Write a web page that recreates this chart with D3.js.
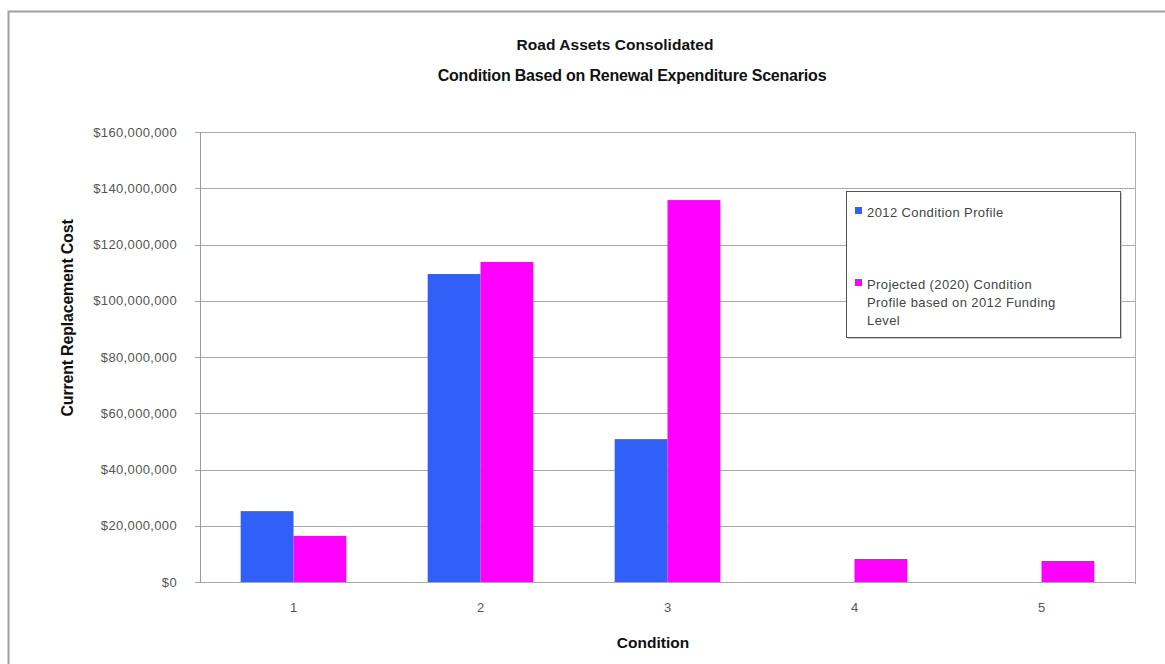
<!DOCTYPE html>
<html>
<head>
<meta charset="utf-8">
<script src="https://cdn.jsdelivr.net/npm/d3@7"></script>
<style>
  html, body { margin: 0; padding: 0; background: #fff; }
  svg { display: block; }
</style>
</head>
<body>
<svg id="chart" width="1165" height="664"></svg>
<script>
// Condition categories (1 = best, 5 = worst)
const categories = ["1", "2", "3", "4", "5"];
// Current replacement cost per condition
const profile2012 = [25200000, 109500000, 50800000, 0, 0];
const projected2020 = [16400000, 113800000, 135800000, 8200000, 7500000];
const seriesNames = ["2012 Condition Profile", "Projected (2020) Condition Profile based on 2012 Funding Level"];
const legendLines = [["2012 Condition Profile"], ["Projected (2020) Condition", "Profile based on 2012 Funding", "Level"]];
const yTicks = [0, 20000000, 40000000, 60000000, 80000000, 100000000, 120000000, 140000000, 160000000];

const colors = ["#3060f8", "#ff00ff"];
const svg = d3.select("#chart");
const font = "Liberation Sans, Arial, sans-serif";

// Outer chart frame (top and left edges)
svg.append("path")
  .attr("d", "M8.5,664 L8.5,11.5 L1165,11.5")
  .attr("fill", "none").attr("stroke", "#a0a0a0").attr("stroke-width", 2);

const plot = { left: 200, top: 132, right: 1135, bottom: 582 };

const x0 = d3.scaleBand().domain(categories).range([plot.left, plot.right]).paddingInner(0.435).paddingOuter(0.2175);
const x1 = d3.scaleBand().domain([0, 1]).range([0, x0.bandwidth()]);
const y = d3.scaleLinear().domain([0, 160000000]).range([plot.bottom, plot.top]);

// Horizontal gridlines with short tick stubs to the left
svg.append("g").selectAll("line").data(yTicks).join("line")
  .attr("x1", plot.left - 5).attr("x2", plot.right)
  .attr("y1", d => Math.round(y(d)) + 0.5).attr("y2", d => Math.round(y(d)) + 0.5)
  .attr("stroke", "#a8a8a8").attr("stroke-width", 1);

// Plot area left and right borders
svg.append("line").attr("x1", plot.left + 0.5).attr("x2", plot.left + 0.5)
  .attr("y1", plot.top).attr("y2", plot.bottom + 1).attr("stroke", "#9a9a9a");
svg.append("line").attr("x1", plot.right + 0.5).attr("x2", plot.right + 0.5)
  .attr("y1", plot.top).attr("y2", plot.bottom + 2).attr("stroke", "#b0b0b0");

// Y tick labels
const fmt = d => "$" + d3.format(",")(d);
svg.append("g").selectAll("text").data(yTicks).join("text")
  .attr("x", 177).attr("y", d => y(d) + 4.5)
  .attr("text-anchor", "end")
  .attr("font-family", font).attr("font-size", 13).attr("letter-spacing", 0.35).attr("fill", "#555")
  .text(fmt);

// Bars
const series = [profile2012, projected2020];
const groups = svg.append("g").selectAll("g").data(categories).join("g")
  .attr("transform", d => `translate(${x0(d)},0)`);
groups.selectAll("rect")
  .data((c, i) => series.map((s, k) => ({ k, v: s[i] })))
  .join("rect")
  .attr("x", d => x1(d.k))
  .attr("width", x1.bandwidth())
  .attr("y", d => y(d.v))
  .attr("height", d => y(0) - y(d.v))
  .attr("fill", d => colors[d.k]);

// X tick labels
svg.append("g").selectAll("text").data(categories).join("text")
  .attr("x", d => x0(d) + x0.bandwidth() / 2).attr("y", 612)
  .attr("text-anchor", "middle")
  .attr("font-family", font).attr("font-size", 13).attr("fill", "#555")
  .text(d => d);

// Titles
svg.append("text").attr("x", 615).attr("y", 50).attr("text-anchor", "middle")
  .attr("font-family", font).attr("font-weight", "bold").attr("font-size", 15.5)
  .attr("letter-spacing", 0.05).attr("fill", "#111")
  .text("Road Assets Consolidated");
svg.append("text").attr("x", 632).attr("y", 81).attr("text-anchor", "middle")
  .attr("font-family", font).attr("font-weight", "bold").attr("font-size", 16)
  .attr("letter-spacing", -0.2).attr("fill", "#111")
  .text("Condition Based on Renewal Expenditure Scenarios");
svg.append("text").attr("x", 653).attr("y", 648).attr("text-anchor", "middle")
  .attr("font-family", font).attr("font-weight", "bold").attr("font-size", 15.5)
  .attr("fill", "#111").text("Condition");
svg.append("text")
  .attr("transform", "translate(73,318) rotate(-90)")
  .attr("text-anchor", "middle")
  .attr("font-family", font).attr("font-weight", "bold").attr("font-size", 16)
  .attr("letter-spacing", -0.2).attr("fill", "#111")
  .text("Current Replacement Cost");

// Legend box with a soft shadow
const lg = svg.append("g").attr("transform", "translate(846,191)");
lg.append("rect").attr("x", 2).attr("y", 2).attr("width", 274).attr("height", 146).attr("fill", "#c8c8c8");
lg.append("rect").attr("x", 0.5).attr("y", 0.5).attr("width", 274).attr("height", 146)
  .attr("fill", "#fff").attr("stroke", "#555");
const itemY = [21, 93];
legendLines.forEach((lines, k) => {
  lg.append("rect").attr("x", 9).attr("y", itemY[k] - 5).attr("width", 7).attr("height", 7)
    .attr("fill", colors[k]);
  lines.forEach((t, j) => {
    lg.append("text").attr("x", 21).attr("y", itemY[k] + 5 + j * 18)
      .attr("font-family", font).attr("font-size", 13).attr("letter-spacing", 0.4).attr("fill", "#444")
      .text(t);
  });
});
</script>
</body>
</html>
